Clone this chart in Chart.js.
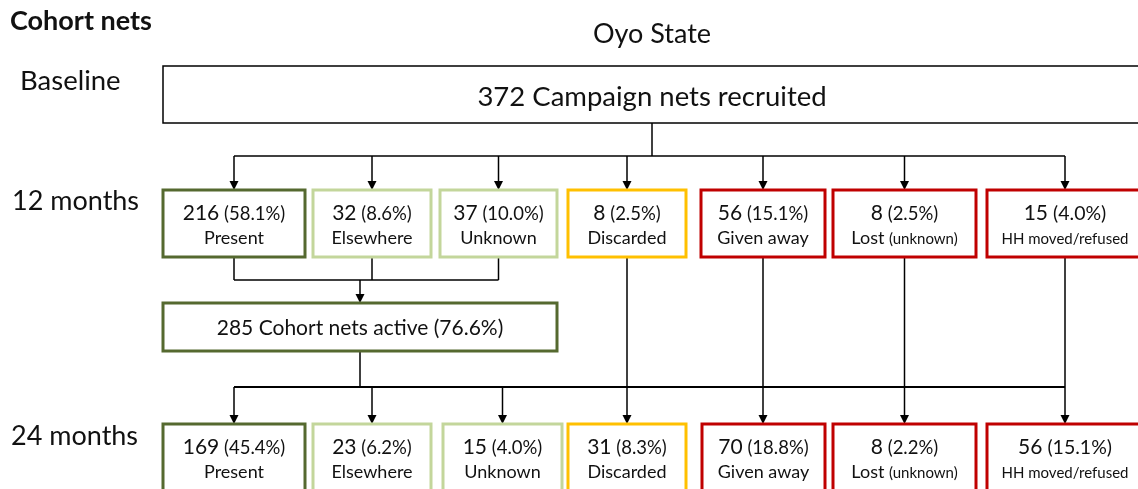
<!DOCTYPE html>
<html>
<head>
<meta charset="utf-8">
<title>Cohort nets – Oyo State</title>
<script src="https://cdn.jsdelivr.net/npm/chart.js@4.4.1/dist/chart.umd.min.js"></script>
<style>
  html, body { margin: 0; padding: 0; background: #fff; }
  #wrap { width: 1138px; height: 489px; }
</style>
</head>
<body>
<div id="wrap"><canvas id="flow" width="1138" height="489"></canvas></div>
<script>
// ---- data ----
const stateName = "Oyo State";
const stages = ["Baseline", "12 months", "24 months"];
const categories = ["Present", "Elsewhere", "Unknown", "Discarded", "Given away", "Lost", "HH moved/refused"];
const categoryNotes = ["", "", "", "", "", "(unknown)", ""];
const categoryGroup = ["active", "kept", "kept", "discarded", "gone", "gone", "gone"];
const baselineNets = 372;
const nets12 = [216, 32, 37, 8, 56, 8, 15];
const pct12 = [58.1, 8.6, 10.0, 2.5, 15.1, 2.5, 4.0];
const activeNets12 = 285;
const activePct12 = 76.6;
const nets24 = [169, 23, 15, 31, 70, 8, 56];
const pct24 = [45.4, 6.2, 4.0, 8.3, 18.8, 2.2, 15.1];

// ---- layout (in axis units, the scales span the whole canvas) ----
const row12Left = [163, 313, 440, 568, 701, 833, 987];
const row12Right = [305, 431, 557, 686, 825, 976, 1143];
const row24Left = [163, 313, 443, 568, 702, 833, 987];
const row24Right = [305, 431, 562, 686, 825, 976, 1143];
const rowTop = { baseline: 66, m12: 190, active: 303, m24: 424 };
const boxH = 67;

const groupColor = {
  active: "#55692f",
  kept: "#c3d69b",
  discarded: "#ffc000",
  gone: "#c00000",
};
const FONT = "Lato, 'Open Sans', sans-serif";

function fmtPct(p) { return "(" + p.toFixed(1) + "%)"; }

const flowPlugin = {
  id: "flow",
  afterDraw(chart) {
    const ctx = chart.ctx;
    const xs = chart.scales.x, ys = chart.scales.y;
    const X = v => xs.getPixelForValue(v);
    const Y = v => ys.getPixelForValue(v);
    const mid = (a, b) => (a + b) / 2;

    function rect(l, t, r, b, color, w) {
      ctx.save();
      ctx.strokeStyle = color;
      ctx.lineWidth = w;
      ctx.fillStyle = "#fff";
      ctx.fillRect(X(l), Y(t), X(r) - X(l), Y(b) - Y(t));
      ctx.strokeRect(X(l), Y(t), X(r) - X(l), Y(b) - Y(t));
      ctx.restore();
    }
    function line(pts, w) {
      ctx.save();
      ctx.strokeStyle = "#000";
      ctx.lineWidth = w || 1.5;
      ctx.beginPath();
      pts.forEach((p, i) => i ? ctx.lineTo(X(p[0]), Y(p[1])) : ctx.moveTo(X(p[0]), Y(p[1])));
      ctx.stroke();
      ctx.restore();
    }
    function arrow(x, y0, y1) {
      line([[x, y0], [x, y1 - 7]]);
      ctx.save();
      ctx.fillStyle = "#000";
      ctx.beginPath();
      ctx.moveTo(X(x), Y(y1));
      ctx.lineTo(X(x) - 4.5, Y(y1) - 9);
      ctx.lineTo(X(x) + 4.5, Y(y1) - 9);
      ctx.closePath();
      ctx.fill();
      ctx.restore();
    }
    // runs: [[text, size, weight]] drawn centred on cx, on a shared baseline
    function runs(list, cx, baseY, align) {
      ctx.save();
      ctx.fillStyle = "#111";
      ctx.textBaseline = "alphabetic";
      let total = 0;
      list.forEach(r => { ctx.font = (r[2] || "normal") + " " + r[1] + "px " + FONT; total += ctx.measureText(r[0]).width; });
      let x = align === "left" ? X(cx) : X(cx) - total / 2;
      list.forEach(r => {
        ctx.font = (r[2] || "normal") + " " + r[1] + "px " + FONT;
        ctx.textAlign = "left";
        ctx.fillText(r[0], x, Y(baseY));
        x += ctx.measureText(r[0]).width;
      });
      ctx.restore();
    }

    // titles
    runs([["Cohort nets", 27, "bold"]], 10, 29.5, "left");
    runs([[stateName, 27]], 652, 43);
    runs([[stages[0], 27.5]], 20, 89.5, "left");
    runs([[stages[1], 27]], 12, 209.5, "left");
    runs([[stages[2], 27]], 11, 445, "left");

    // baseline box
    const bl = row12Left[0], br = 1143;
    rect(bl, rowTop.baseline, br, rowTop.baseline + 57, "#000", 1.5);
    runs([[baselineNets + " Campaign nets recruited", 27.5]], 652, 105.5);

    // split to the 12 month categories
    const c12 = row12Left.map((l, i) => mid(l, row12Right[i]));
    const c24 = row24Left.map((l, i) => mid(l, row24Right[i]));
    const branchY = 156;
    line([[652, rowTop.baseline + 57], [652, branchY]]);
    line([[c12[0], branchY], [c12[6], branchY]]);
    c12.forEach(c => arrow(c, branchY, rowTop.m12));

    // active box fed by the first three categories
    const mergeY = 280;
    const activeL = row12Left[0], activeR = row12Right[2];
    const activeC = 360;
    [0, 1, 2].forEach(i => line([[c12[i], rowTop.m12 + boxH], [c12[i], mergeY]]));
    line([[c12[0], mergeY], [c12[2], mergeY]]);
    arrow(activeC, mergeY, rowTop.active);

    // active box -> 24 month categories
    const split2Y = 387;
    line([[activeC, rowTop.active + 48], [activeC, split2Y]]);
    line([[c24[0], split2Y], [c24[6], split2Y]], 1.8);
    [0, 1, 2].forEach(i => arrow(c24[i], split2Y, rowTop.m24));
    // lost nets carried straight down
    [3, 4, 5, 6].forEach(i => arrow(c12[i], rowTop.m12 + boxH, rowTop.m24));

    rect(activeL, rowTop.active, activeR, rowTop.active + 48, groupColor.active, 3);
    runs([[activeNets12 + " Cohort nets active " + fmtPct(activePct12), 21]], mid(activeL, activeR), 334.5);

    function categoryBox(i, left, right, top, n, p) {
      rect(left, top, right, top + boxH, groupColor[categoryGroup[i]], 3);
      const c = mid(left, right);
      const small = i === 6;
      runs([[String(n), 21], [" " + fmtPct(p), small ? 19.5 : 18.5]], c, top + 30);
      if (small) {
        runs([[categories[i], 15]], c, top + 54);
      } else if (categoryNotes[i]) {
        runs([[categories[i] + " ", 18], [categoryNotes[i], 15]], c, top + 54);
      } else {
        runs([[categories[i], 18]], c, top + 54);
      }
    }
    categories.forEach((_, i) => {
      categoryBox(i, row12Left[i], row12Right[i], rowTop.m12, nets12[i], pct12[i]);
      categoryBox(i, row24Left[i], row24Right[i], rowTop.m24, nets24[i], pct24[i]);
    });
  },
};

new Chart(document.getElementById("flow"), {
  type: "scatter",
  data: { datasets: [] },
  options: {
    responsive: false,
    animation: false,
    layout: { padding: 0 },
    scales: {
      x: { type: "linear", min: 0, max: 1138, display: false },
      y: { type: "linear", min: 0, max: 489, reverse: true, display: false },
    },
    plugins: { legend: { display: false }, tooltip: { enabled: false } },
  },
  plugins: [flowPlugin],
});
</script>
</body>
</html>
